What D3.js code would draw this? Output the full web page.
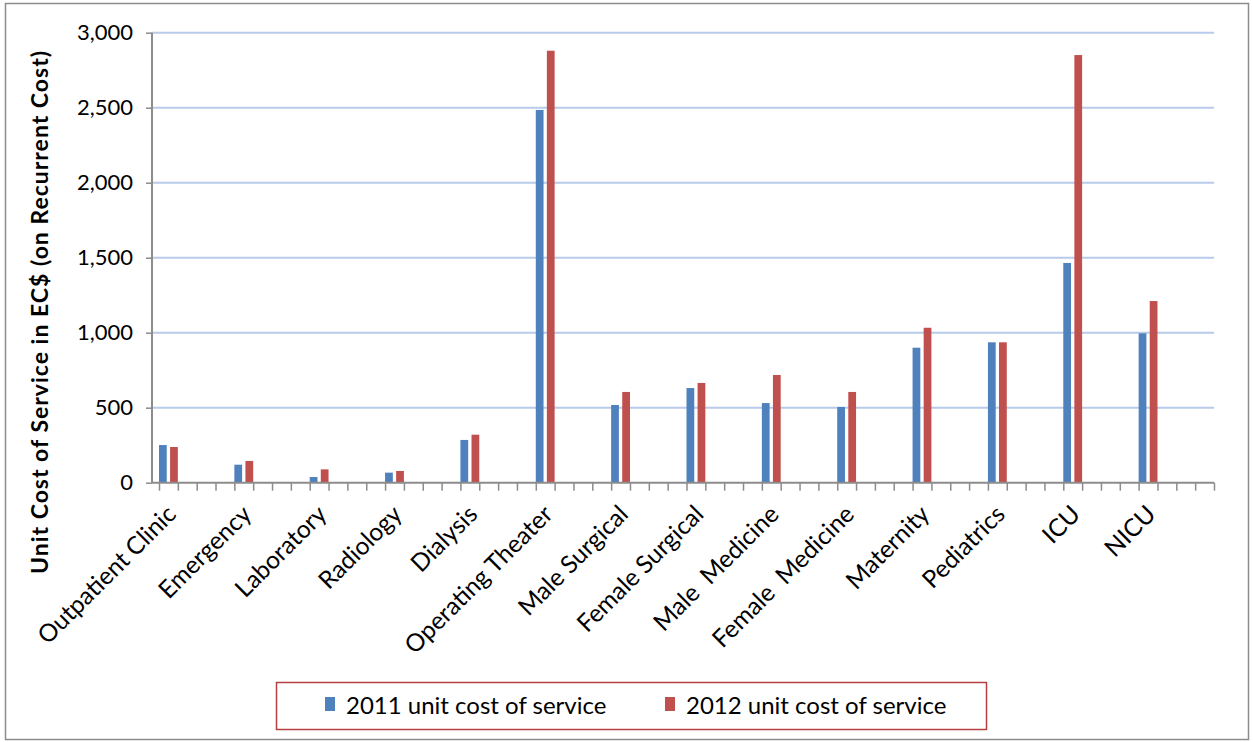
<!DOCTYPE html>
<html>
<head>
<meta charset="utf-8">
<script src="https://cdn.jsdelivr.net/npm/d3@7"></script>
<style>
  body { margin: 0; background: #fff; }
  text { font-family: Lato, "Open Sans", sans-serif; fill: #000; }
</style>
</head>
<body>
<div id="chart"></div>
<script>
// categories and the two series (EC$)
var categories = ["Outpatient Clinic", "Emergency", "Laboratory", "Radiology", "Dialysis",
  "Operating Theater", "Male Surgical", "Female Surgical", "Male  Medicine", "Female  Medicine",
  "Maternity", "Pediatrics", "ICU", "NICU"];
var cost2011 = [251, 120, 38, 67, 285, 2485, 518, 631, 531, 505, 900, 936, 1465, 996];
var cost2012 = [238, 145, 89, 78, 320, 2880, 605, 665, 718, 605, 1033, 936, 2851, 1211];
var seriesNames = ["2011 unit cost of service", "2012 unit cost of service"];
var yTicks = [0, 500, 1000, 1500, 2000, 2500, 3000];

var colors = ["#4f81bd", "#c0504d"];
var width = 1253, height = 742;
// each category sits in a slot followed by three empty slots
var slotsPer = 4, nSlots = categories.length * slotsPer;
var plotLeft = 159, plotRight = 1214, plotTop = 32.7, plotBottom = 482.7, axisX = 152;

var svg = d3.select("#chart").append("svg")
  .attr("width", width)
  .attr("height", height);

// outer frame
svg.append("rect")
  .attr("x", 5.5).attr("y", 3.5)
  .attr("width", 1243).attr("height", 736)
  .attr("fill", "none").attr("stroke", "#8c8c8c").attr("stroke-width", 1.5);

var xs = d3.scaleLinear().domain([0, nSlots]).range([plotLeft, plotRight]);
var x1 = d3.scaleBand().domain(seriesNames).range([0, xs(1) - xs(0)]).paddingInner(0.3);
var y = d3.scaleLinear().domain([0, 3000]).range([plotBottom, plotTop]);

// gridlines
svg.append("g").selectAll("line")
  .data(yTicks.filter(function(d) { return d > 0; }))
  .enter().append("line")
  .attr("x1", axisX).attr("x2", plotRight)
  .attr("y1", function(d) { return y(d); })
  .attr("y2", function(d) { return y(d); })
  .attr("stroke", "#b9cbea").attr("stroke-width", 2);

// bars
var rows = categories.map(function(c, i) { return {name: c, i: i, vals: [cost2011[i], cost2012[i]]}; });
var groups = svg.append("g").selectAll("g")
  .data(rows).enter().append("g")
  .attr("transform", function(d) { return "translate(" + xs(d.i * slotsPer) + ",0)"; });
groups.selectAll("rect")
  .data(function(d) { return d.vals.map(function(v, k) { return {k: k, v: v}; }); })
  .enter().append("rect")
  .attr("x", function(d) { return x1(seriesNames[d.k]); })
  .attr("width", x1.bandwidth())
  .attr("y", function(d) { return y(d.v); })
  .attr("height", function(d) { return y(0) - y(d.v); })
  .attr("fill", function(d) { return colors[d.k]; });

// y axis
var yAxis = svg.append("g")
  .attr("transform", "translate(" + axisX + ",0)")
  .call(d3.axisLeft(y).tickValues(yTicks).tickFormat(d3.format(",")).tickSize(6).tickPadding(13));
yAxis.select(".domain").remove();
yAxis.selectAll(".tick line").attr("stroke", "#8c8c8c").attr("stroke-width", 1.5);
yAxis.selectAll(".tick text").style("font-size", "22px").style("font-family", "Lato, sans-serif");
svg.append("line")
  .attr("x1", axisX).attr("x2", axisX).attr("y1", plotTop).attr("y2", plotBottom)
  .attr("stroke", "#8c8c8c").attr("stroke-width", 2);

// x axis with a tick at every slot boundary
var xAxis = svg.append("g")
  .attr("transform", "translate(0," + plotBottom + ")")
  .call(d3.axisBottom(xs).tickValues(d3.range(nSlots + 1)).tickFormat("").tickSize(8));
xAxis.select(".domain").remove();
xAxis.selectAll(".tick line").attr("stroke", "#8c8c8c").attr("stroke-width", 1.5);
svg.append("line")
  .attr("x1", axisX).attr("x2", plotRight).attr("y1", plotBottom).attr("y2", plotBottom)
  .attr("stroke", "#8c8c8c").attr("stroke-width", 2);

// category labels
svg.append("g").selectAll("text")
  .data(rows).enter().append("text")
  .attr("transform", function(d) {
    return "translate(" + (xs(d.i * slotsPer + 0.5) + 3) + "," + (plotBottom + 27) + ") rotate(-45)";
  })
  .attr("text-anchor", "end")
  .attr("dy", "0.35em")
  .style("font-size", "24.5px")
  .style("white-space", "pre")
  .text(function(d) { return d.name; });

// y title
svg.append("text")
  .attr("transform", "translate(48,312) rotate(-90)")
  .attr("text-anchor", "middle")
  .style("font-size", "23px")
  .style("font-weight", "bold")
  .style("letter-spacing", "1px")
  .text("Unit Cost of Service in EC$ (on Recurrent Cost)");

// legend
var legend = svg.append("g");
legend.append("rect")
  .attr("x", 276.5).attr("y", 682.5).attr("width", 710).attr("height", 47)
  .attr("fill", "#fff").attr("stroke", "#b5413e").attr("stroke-width", 1.5);
var legendX = [325, 665];
seriesNames.forEach(function(s, k) {
  legend.append("rect")
    .attr("x", legendX[k]).attr("y", 697).attr("width", 10).attr("height", 14)
    .attr("fill", colors[k]);
  legend.append("text")
    .attr("x", legendX[k] + 21).attr("y", 714)
    .style("font-size", "24px")
    .text(s);
});
</script>
</body>
</html>
